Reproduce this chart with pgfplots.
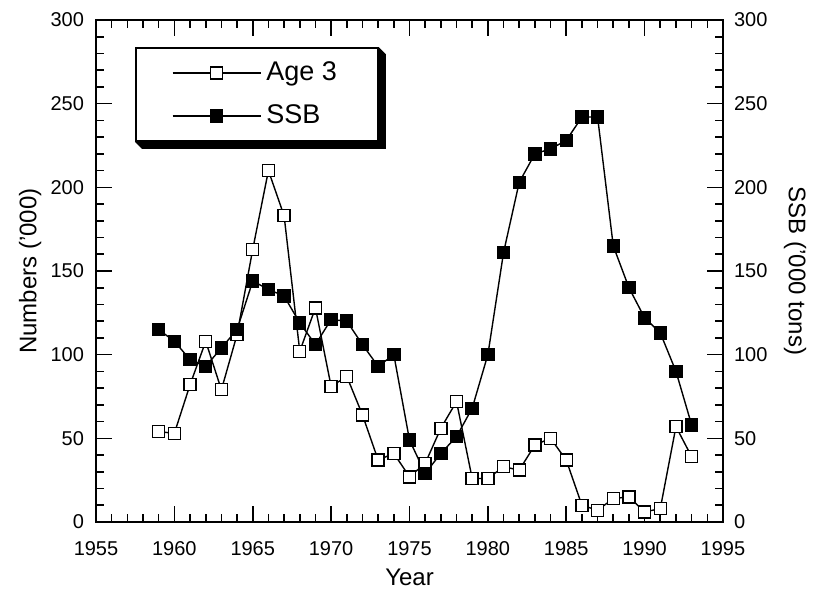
\documentclass[border=0pt]{standalone}
\usepackage{fontspec}
\setmainfont{Liberation Sans}
\usepackage{pgfplots}
\usepackage{pgfplotstable}
\pgfplotsset{compat=1.18}

\pgfplotstableread{
year age3 ssb
1959 54 115
1960 53 108
1961 82 97
1962 108 93
1963 79 104
1964 112 115
1965 163 144
1966 210 139
1967 183 135
1968 102 119
1969 128 106
1970 81 121
1971 87 120
1972 64 106
1973 37 93
1974 41 100
1975 27 49
1976 35 29
1977 56 41
1978 72 51
1979 26 68
1980 26 100
1981 33 161
1982 31 203
1983 46 220
1984 50 223
1985 37 228
1986 10 242
1987 7 242
1988 14 165
1989 15 140
1990 6 122
1991 8 113
1992 57 90
1993 39 58
}\datatable

\pgfplotsset{
  common/.style={
    width=313.5pt, height=251pt, scale only axis,
    xmin=1955, xmax=1995, ymin=0, ymax=300,
    xtick distance=5, ytick distance=50,
    minor x tick num=4, minor y tick num=4,
    tick align=inside,
    major tick length=8pt, minor tick length=4pt,
    axis line style={line width=1pt},
    every tick/.style={black, line width=0.8pt},
    /pgf/number format/assume math mode=true,
    x tick label style={/pgf/number format/1000 sep=},
    tick label style={font=\fontsize{10}{12}\selectfont},
    label style={font=\fontsize{12}{14}\selectfont},
  },
}

\begin{document}
\begin{tikzpicture}
\begin{axis}[
  common,
  xtick pos=both, ytick pos=both,
  yticklabel pos=left,
  xticklabel style={yshift=-6pt},
  yticklabel style={xshift=-2.5pt},
  xlabel=Year,
  ylabel={Numbers ('000)},
  xlabel style={at={(axis description cs:0.5,-0.11)}, anchor=center},
  ylabel style={at={(axis description cs:-0.105,0.5)}, anchor=center},
  legend cell align=left,
  legend image code/.code={\draw[mark repeat=2,mark phase=2] plot coordinates {(0pt,0pt) (22pt,0pt) (44pt,0pt)};},
  legend style={name=leg, at={(axis description cs:0.062,0.946)}, anchor=north west,
    draw=black, line width=1pt, fill=white,
    font=\fontsize{13.5}{16}\selectfont,
    nodes={inner xsep=2.5pt},
    inner xsep=18pt, inner ysep=5pt, row sep=6.5pt},
]
\addplot[black, line width=0.7pt, mark=square*, mark size=3pt,
  mark options={fill=white, line width=0.7pt}] table[x=year, y=age3] {\datatable};
\addlegendentry{Age 3}
\addplot[black, line width=0.7pt, mark=square*, mark size=3pt,
  mark options={fill=black, line width=0.7pt}] table[x=year, y=ssb] {\datatable};
\addlegendentry{SSB}
\end{axis}
\begin{axis}[
  common,
  axis y line*=right, axis x line=none,
  yticklabel style={xshift=2pt},
  ylabel={SSB ('000 tons)},
  ylabel style={at={(axis description cs:1.115,0.5)}, anchor=center, rotate=180},
]
\addplot[draw=none] table[x=year, y=ssb] {\datatable};
\end{axis}
% shadow of the legend box
\fill[black] (leg.north east) -- ([shift={(3.5pt,-3.5pt)}]leg.north east)
  -- ([shift={(3.5pt,-3.5pt)}]leg.south east) -- ([shift={(3.5pt,-3.5pt)}]leg.south west)
  -- (leg.south west) -- (leg.south east) -- cycle;
\path (-48pt,-37.5pt) rectangle (359.5pt,261pt);
\end{tikzpicture}
\end{document}
